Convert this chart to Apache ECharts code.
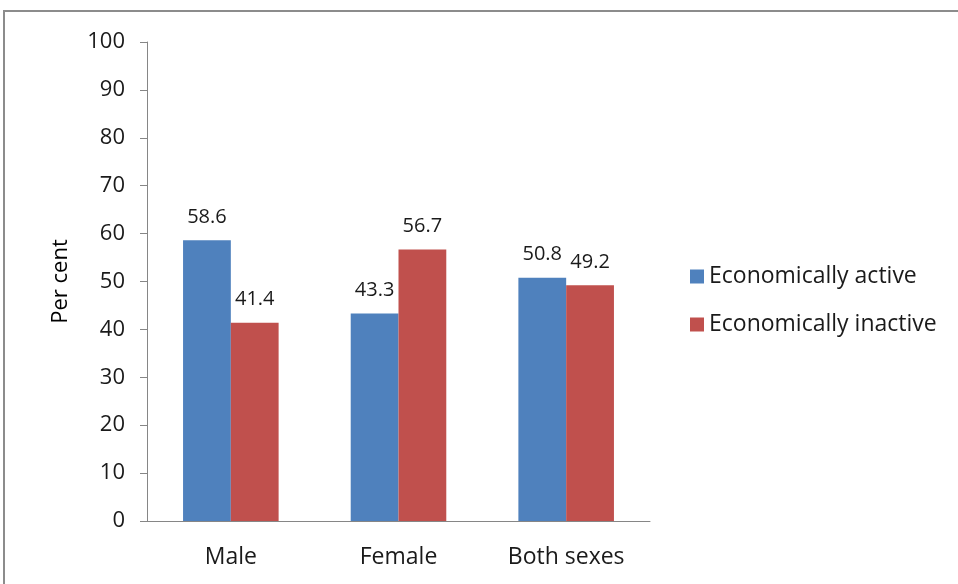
<!DOCTYPE html>
<html>
<head>
<meta charset="utf-8">
<script src="https://cdn.jsdelivr.net/npm/echarts@6/dist/echarts.min.js"></script>
<style>
html,body{margin:0;padding:0;background:#fff;}
#chart{width:958px;height:584px;}
</style>
</head>
<body>
<div id="chart"></div>
<script>
// Population by economic activity status, per cent
const categories = ['Male', 'Female', 'Both sexes'];
const activeValues = [58.6, 43.3, 50.8];
const inactiveValues = [41.4, 56.7, 49.2];
const seriesNames = ['Economically active', 'Economically inactive'];
const yTicks = { min: 0, max: 100, interval: 10 };

const FONT = '"Open Sans", Lato, sans-serif';
const chart = echarts.init(document.getElementById('chart'), null, { renderer: 'canvas' });

const labelStyle = {
  show: true,
  position: 'top',
  distance: 13,
  color: '#1a1a1a',
  fontFamily: FONT,
  fontSize: 20
};

chart.setOption({
  animation: false,
  backgroundColor: '#ffffff',
  graphic: [{
    type: 'rect',
    shape: { x: 4, y: 11, width: 1000, height: 600 },
    style: { fill: 'none', stroke: '#8c8c8c', lineWidth: 2 },
    silent: true
  }],
  grid: { left: 147, right: 308, top: 42, bottom: 63 },
  legend: {
    orient: 'vertical',
    left: 685,
    top: 260,
    itemWidth: 14,
    itemHeight: 14,
    itemGap: 25,
    icon: 'rect',
    textStyle: { fontFamily: FONT, fontSize: 23, color: '#1a1a1a' },
    data: seriesNames
  },
  xAxis: {
    type: 'category',
    data: categories,
    axisLine: { lineStyle: { color: '#868686', width: 1 } },
    axisTick: { show: false },
    axisLabel: { fontFamily: FONT, fontSize: 23, color: '#1a1a1a', margin: 25 }
  },
  yAxis: {
    type: 'value',
    min: yTicks.min,
    max: yTicks.max,
    interval: yTicks.interval,
    name: 'Per cent',
    nameLocation: 'middle',
    nameGap: 75,
    nameRotate: 90,
    nameTextStyle: { fontFamily: FONT, fontSize: 22, color: '#000' },
    axisLine: { show: true, lineStyle: { color: '#868686', width: 1 } },
    axisTick: { show: true, length: 7, lineStyle: { color: '#868686' } },
    splitLine: { show: false },
    axisLabel: { fontFamily: FONT, fontSize: 22, color: '#1a1a1a', margin: 22 }
  },
  series: [
    {
      name: seriesNames[0],
      type: 'bar',
      data: activeValues,
      barGap: '0%',
      barCategoryGap: '43%',
      itemStyle: { color: '#4F81BD' },
      label: labelStyle
    },
    {
      name: seriesNames[1],
      type: 'bar',
      data: inactiveValues,
      itemStyle: { color: '#C0504D' },
      label: labelStyle
    }
  ]
});
</script>
</body>
</html>
